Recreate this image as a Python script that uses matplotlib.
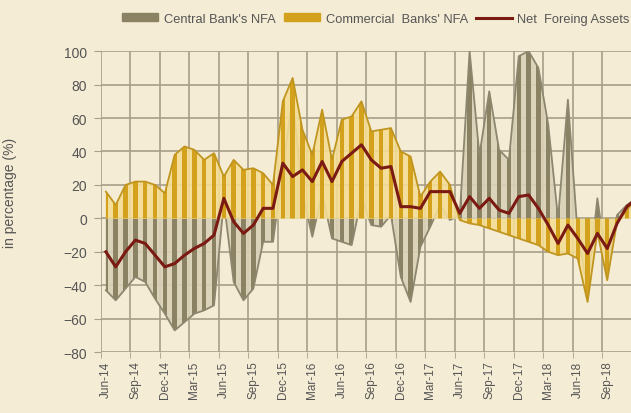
import numpy as np
import matplotlib
matplotlib.use("Agg")
import matplotlib.pyplot as plt
from matplotlib.patches import Polygon, Patch
from matplotlib.lines import Line2D

plt.rcParams['font.family'] = ['Liberation Sans', 'DejaVu Sans']

# monthly data, Jun-14 .. Dec-18 (in percentage)
central_nfa = [-43, -49, -42, -35, -38, -48, -57, -67, -62, -57, -55, -52, 10, -38, -49,
               -42, -14, -14, 30, 72, 15, -11, 15, -12, -14, -16, 12, -4, -5, 2,
               -35, -50, -17, -5, 8, -1, 2, 100, 38, 76, 41, 35, 97, 100, 90,
               56, 0, 71, -10, -42, 12, -30, 2, 8, 12]
commercial_nfa = [16, 8, 20, 22, 22, 20, 15, 38, 43, 41, 35, 39, 25, 35, 29,
                  30, 27, 20, 70, 84, 53, 38, 65, 35, 59, 61, 70, 52, 53, 54,
                  40, 37, 13, 22, 28, 20, -1, -3, -4, -6, -8, -10, -12, -14, -16,
                  -20, -22, -21, -24, -50, -8, -37, -2, 5, 12]
net_foreign = [-20, -29, -20, -13, -15, -22, -29, -27, -22, -18, -15, -10, 12, -2, -9,
               -4, 6, 6, 33, 25, 29, 22, 34, 22, 34, 39, 44, 35, 30, 31,
               7, 7, 6, 16, 16, 16, 3, 13, 6, 12, 5, 3, 13, 14, 6,
               -4, -15, -4, -12, -21, -9, -18, -3, 7, 12]
tick_labels = ['Jun-14', 'Sep-14', 'Dec-14', 'Mar-15', 'Jun-15', 'Sep-15', 'Dec-15',
               'Mar-16', 'Jun-16', 'Sep-16', 'Dec-16', 'Mar-17', 'Jun-17', 'Sep-17',
               'Dec-17', 'Mar-18', 'Jun-18', 'Sep-18', 'Dec-18']

bg = '#f4ecd4'
grid_c = '#a89e89'
cb_dark, cb_light, cb_edge = '#8a8262', '#d9d2b9', '#8e8770'
com_dark, com_light, com_edge = '#d4a11c', '#f3dd96', '#c0951f'
net_c = '#7a1a12'
txt_c = '#555555'

fig = plt.figure(figsize=(6.31, 4.14), dpi=100, facecolor=bg)
# the reference is cropped on the right, so the axes run past the figure edge
ax = fig.add_axes([0.160, 0.147, 0.888, 0.727], facecolor=bg)

x = np.arange(len(net_foreign))


def striped_area(vals, light, dark, edge, z):
    vals = np.asarray(vals, float)
    ax.fill_between(x, 0, vals, color=light, lw=0, zorder=z, alpha=0.9)
    verts = np.vstack([[x[0], 0], np.column_stack([x, vals]), [x[-1], 0]])
    clip = Polygon(verts, closed=True, transform=ax.transData)
    bars = ax.bar(x, 220, bottom=-110, width=0.45, color=dark, lw=0, zorder=z + 0.1)
    for b in bars:
        b.set_clip_path(clip)
    ax.plot(x, vals, color=edge, lw=1.3, zorder=z + 0.2)


striped_area(central_nfa, cb_light, cb_dark, cb_edge, 2)
striped_area(commercial_nfa, com_light, com_dark, com_edge, 3)
ax.plot(x, net_foreign, color=net_c, lw=2.2, zorder=6)

ax.set_xlim(-0.5, 56.5)
ax.set_ylim(-80, 100)
ax.set_yticks(np.arange(-80, 101, 20))
ax.set_xticks(np.arange(0, len(x), 3))
ax.set_xticklabels(tick_labels, rotation=90, fontsize=8.5, color=txt_c)
ax.set_xticks(np.arange(-0.5, 57, 3), minor=True)
ax.tick_params(axis='x', which='major', length=0, pad=6)
ax.tick_params(axis='x', which='minor', length=4, color=grid_c)
ax.tick_params(axis='y', length=5, color=grid_c, labelsize=10, labelcolor=txt_c, pad=5)
ax.grid(axis='y', color=grid_c, lw=1.2, zorder=1)
ax.grid(axis='x', which='minor', color=grid_c, lw=1.2, zorder=1)
ax.set_axisbelow(True)
for s in ax.spines.values():
    s.set_visible(False)

fig.text(0.016, 0.535, 'in percentage (%)', rotation=90, va='center', ha='center',
         fontsize=10, color=txt_c)

handles = [Patch(color=cb_dark), Patch(color=com_dark),
           Line2D([], [], color=net_c, lw=2.2)]
fig.legend(handles, ["Central Bank's NFA", "Commercial  Banks' NFA", 'Net  Foreing Assets'],
           loc='upper left', bbox_to_anchor=(0.175, 0.995), ncol=3, frameon=False,
           fontsize=9.3, handlelength=2.8, handleheight=0.5, handletextpad=0.45,
           columnspacing=0.6, labelcolor=txt_c)

fig.savefig('out.png', dpi=100, facecolor=bg)
